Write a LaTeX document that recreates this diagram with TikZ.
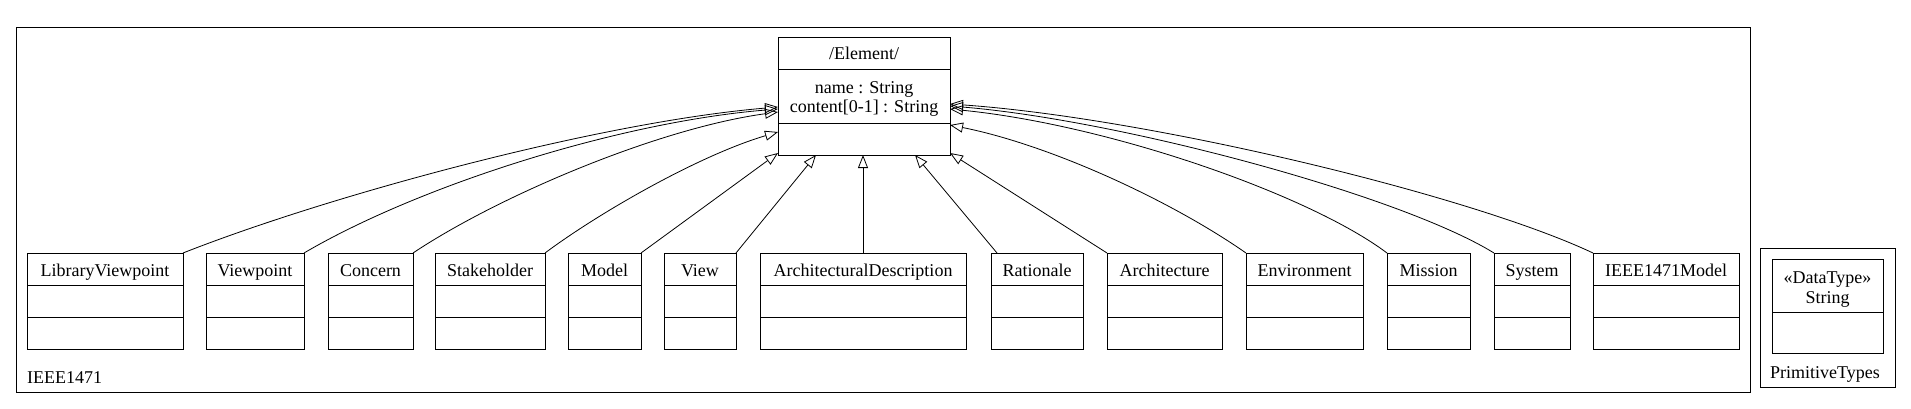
\documentclass[tikz,border=0pt]{standalone}
\usepackage{fontspec}
\setmainfont{Liberation Serif}
\usetikzlibrary{arrows.meta}
\newcommand\umlcls[4]{%
  \node[box, minimum width=#3pt-#2pt, minimum height=96pt] (#1) at (#2,253) {};
  \draw[boxline] (#1.west |- 0,285) -- (#1.east |- 0,285);
  \draw[boxline] (#1.west |- 0,317) -- (#1.east |- 0,317);
  \node[txt, anchor=base] (#1-name) at ({(#2+#3)/2},276) {#4};
}
\begin{document}
\begin{tikzpicture}[x=1pt,y=-1pt,
  box/.style={draw, line width=1pt, inner sep=0pt, outer sep=0pt, anchor=north west},
  boxline/.style={line width=1pt},
  txt/.style={font=\fontsize{18}{20}\selectfont, inner sep=0pt},
  gen/.style={line width=0.8pt, -{Triangle[open,length=13pt,width=10pt,line width=0.8pt]}}]
\useasboundingbox (0,0) rectangle (1911,408);

% packages
\node[box, minimum width=1734pt, minimum height=365pt] (pkg) at (16,27) {};
\node[txt, anchor=base west] (pkglabel) at (27,383) {IEEE1471};
\node[box, minimum width=135pt, minimum height=139pt] (prim) at (1760,248) {};
\node[txt, anchor=base west] (primlabel) at (1770,378) {PrimitiveTypes};

% String datatype
\node[box, minimum width=111pt, minimum height=94pt] (str) at (1772,259) {};
\draw[boxline] (str.west |- 0,312) -- (str.east |- 0,312);
\node[txt, anchor=base] (strst) at (1827.5,283) {«DataType»};
\node[txt, anchor=base] (strname) at (1827.5,303) {String};

% Element
\node[box, minimum width=172pt, minimum height=118pt] (el) at (778,37) {};
\draw[boxline] (el.west |- 0,69) -- (el.east |- 0,69);
\draw[boxline] (el.west |- 0,123) -- (el.east |- 0,123);
\node[txt, anchor=base] (elname) at (864,59) {/Element/};
\node[txt, anchor=base] (elat1) at (864,93) {name : String};
\node[txt, anchor=base] (elat2) at (864,112) {content[0-1] : String};

% classes
\umlcls{lv}{27}{183}{LibraryViewpoint}
\umlcls{vp}{206}{304}{Viewpoint}
\umlcls{co}{328}{413}{Concern}
\umlcls{sh}{435}{545}{Stakeholder}
\umlcls{mo}{568}{641}{Model}
\umlcls{vw}{664}{736}{View}
\umlcls{ad}{760}{966}{ArchitecturalDescription}
\umlcls{ra}{991}{1083}{Rationale}
\umlcls{ar}{1107}{1222}{Architecture}
\umlcls{en}{1246}{1363}{Environment}
\umlcls{mi}{1387}{1470}{Mission}
\umlcls{sy}{1494}{1570}{System}
\umlcls{im}{1593}{1739}{IEEE1471Model}

% generalizations
\draw[gen] (lv.north east) .. controls (330,195) and (600,122) .. (el.west |- 0,107);
\draw[gen] (vp.north east) .. controls (420,185) and (620,122) .. (el.west |- 0,109);
\draw[gen] (co.north east) .. controls (500,195) and (660,128) .. (el.west |- 0,112);
\draw[gen] (sh.north east) .. controls (600,212) and (700,155) .. (el.west |- 0,132);
\draw[gen] (mo.north east) -- (el.west |- 0,153);
\draw[gen] (vw.north east) -- (el.south -| 816,0);
\draw[gen] (ad.north) -- (el.south -| ad.north);
\draw[gen] ([xshift=6pt]ra.north west) -- (el.south -| 915,0);
\draw[gen] (ar.north west) -- (el.east |- 0,153);
\draw[gen] (en.north west) .. controls (1170,200) and (1050,145) .. (el.east |- 0,125);
\draw[gen] (mi.north west) .. controls (1310,195) and (1110,125) .. (el.east |- 0,109);
\draw[gen] (sy.north west) .. controls (1400,195) and (1120,120) .. (el.east |- 0,106);
\draw[gen] (im.north west) .. controls (1470,195) and (1150,118) .. (el.east |- 0,104);
\end{tikzpicture}
\end{document}
